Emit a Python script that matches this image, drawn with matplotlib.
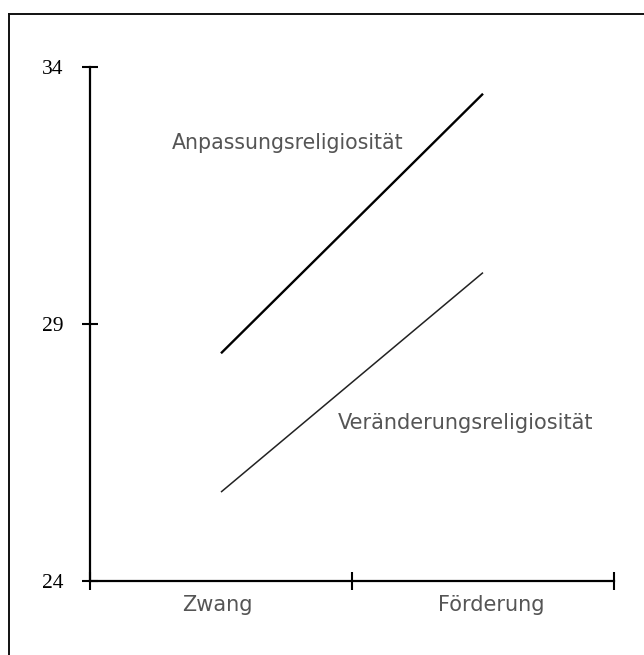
import matplotlib
matplotlib.use("Agg")
import matplotlib.pyplot as plt
from matplotlib.lines import Line2D

# categories on the x axis (centred between ticks)
categories = ["Zwang", "Förderung"]
cat_pos = [0.5, 1.5]

# mean scores
anpassung = [28.43, 33.48]
veraenderung = [25.73, 30.0]

y_ticks = [24, 29, 34]

fig = plt.figure(figsize=(6.44, 6.55), dpi=100)
ax = fig.add_axes([90 / 644, 1 - 581 / 655, (614 - 90) / 644, (581 - 67) / 655])

ax.plot(cat_pos, anpassung, color="black", lw=1.7, solid_capstyle="butt")
ax.plot(cat_pos, veraenderung, color="#222222", lw=1.1, solid_capstyle="butt")

label_color = "#555555"
ax.text(0.313, 32.52, "Anpassungsreligiosität", fontsize=14.8, color=label_color,
        va="center", ha="left")
ax.text(0.947, 27.07, "Veränderungsreligiosität", fontsize=15, color=label_color,
        va="center", ha="left")

ax.set_xlim(0, 2)
ax.set_ylim(24, 34)
ax.spines["top"].set_visible(False)
ax.spines["right"].set_visible(False)
for s in ("left", "bottom"):
    ax.spines[s].set_linewidth(1.6)
    ax.spines[s].set_color("black")

ax.set_yticks(y_ticks)
ax.set_yticklabels([str(v) for v in y_ticks], fontfamily="Liberation Serif",
                   fontsize=15.5)
ax.tick_params(axis="y", direction="inout", length=12, width=1.5, pad=13)

ax.set_xticks([0, 1, 2])
ax.set_xticklabels([])
ax.tick_params(axis="x", direction="inout", length=13, width=1.5)
# category names sit a little off-centre in the scan
for x, name, dx in zip(cat_pos, categories, [-0.015, 0.03]):
    ax.text(x + dx, 24 - 0.27, name, fontsize=15, color=label_color,
            ha="center", va="top")

# scanned frame around the figure (open at the bottom)
fig.add_artist(Line2D([9 / 644, 9 / 644], [0, 1 - 14 / 655], color="#111111", lw=1.4))
fig.add_artist(Line2D([9 / 644, 1], [1 - 14 / 655, 1 - 14 / 655], color="#111111", lw=1.4))

fig.savefig("out.png", dpi=100)
